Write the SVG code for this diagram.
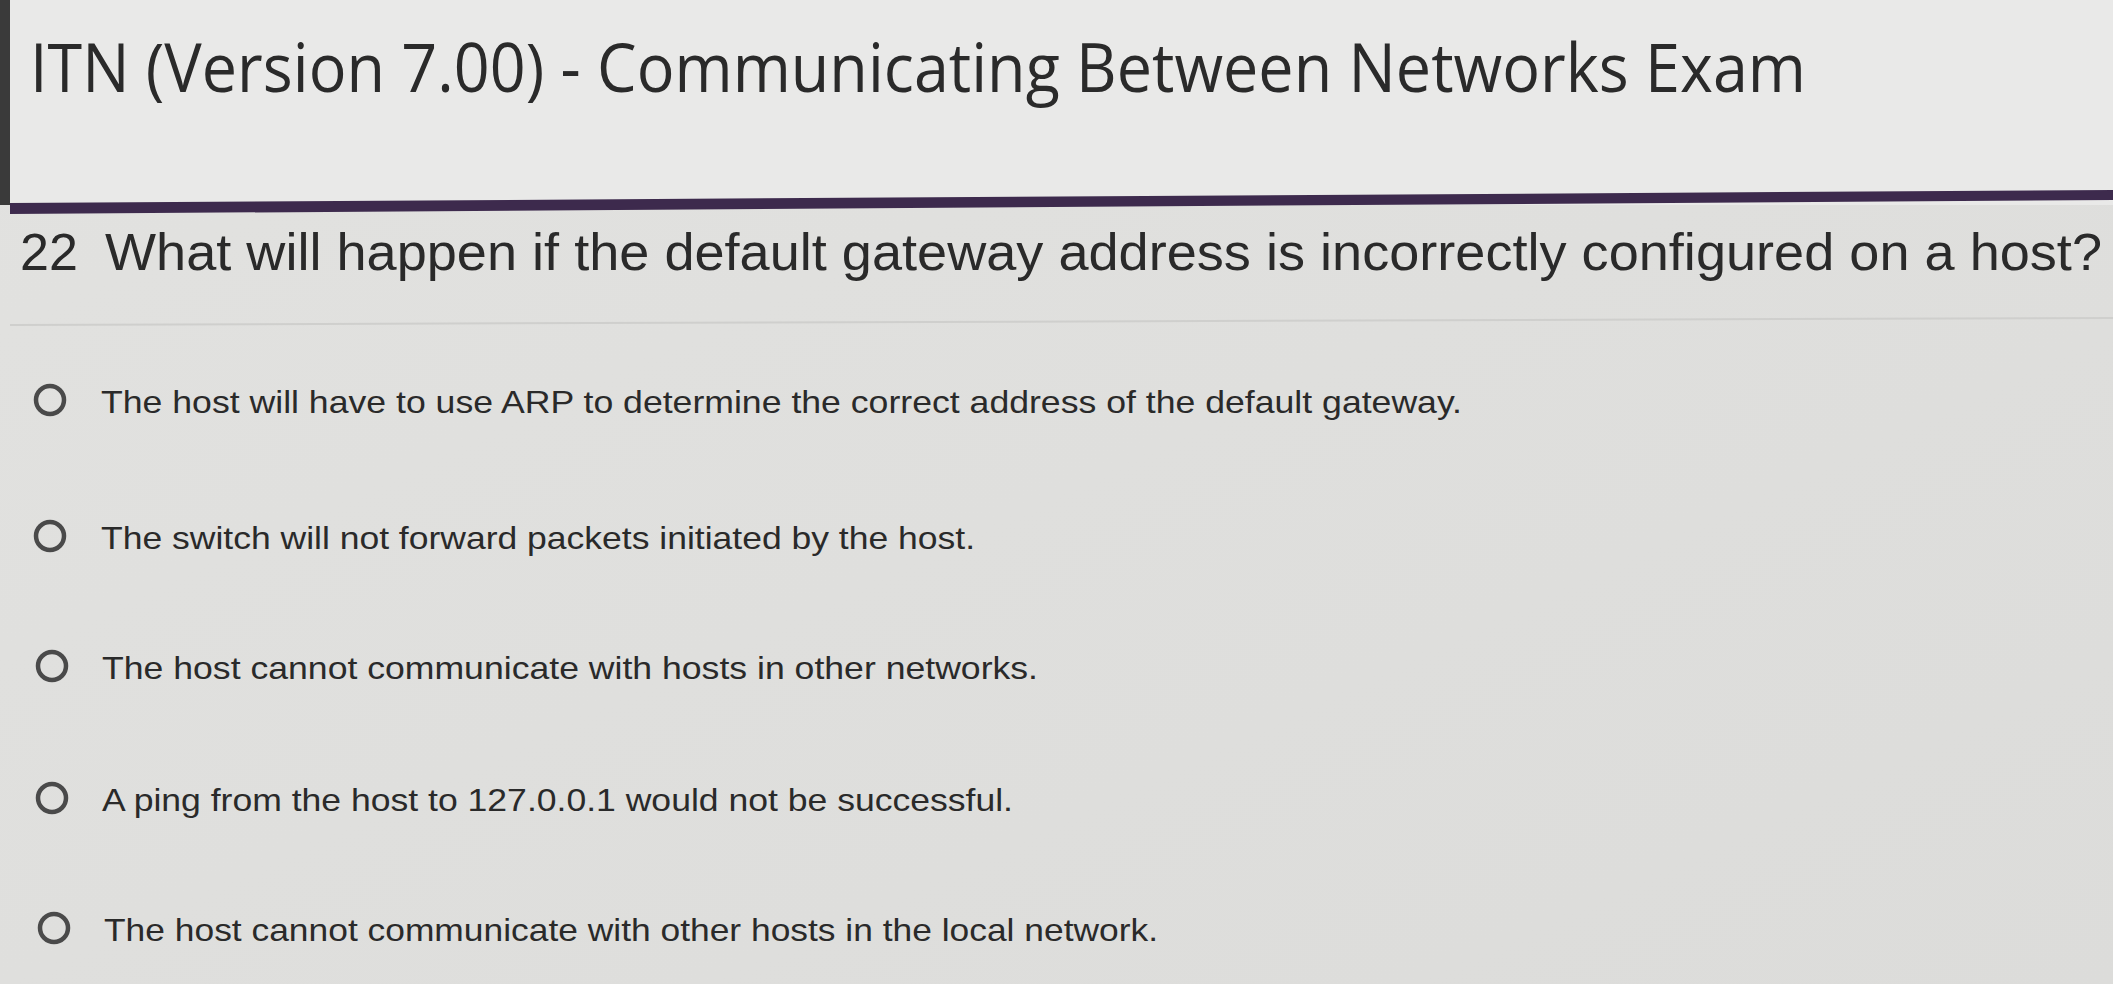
<svg xmlns="http://www.w3.org/2000/svg" width="2113" height="984" viewBox="0 0 2113 984">
<defs>
<style>
.t{font-family:"Liberation Sans",Arial,sans-serif;fill:#2a2a2a}
.opt{font-size:32px}
.rb{fill:none;stroke:#4a4a4a;stroke-width:4.5}
</style>
<linearGradient id="bg" x1="0" y1="0" x2="1" y2="1">
<stop offset="0" stop-color="#e2e2e0"/><stop offset="1" stop-color="#dcdcda"/>
</linearGradient>
</defs>
<rect width="2113" height="984" fill="url(#bg)"/>
<rect width="2113" height="205" fill="#e9e9e8"/>
<rect x="0" y="0" width="10" height="205" fill="#3a3a3a"/>
<polygon points="10,203 2113,190 2113,200 10,214" fill="#3d2a4d"/>
<line x1="10" y1="325" x2="2113" y2="318" stroke="#cfcfcd" stroke-width="2"/>
<text class="t" x="30" y="92" font-size="68" style="font-family:'Open Sans',sans-serif;font-weight:400" textLength="1776" lengthAdjust="spacingAndGlyphs">ITN (Version 7.00) - Communicating Between Networks Exam</text>
<text class="t" x="20" y="270" font-size="52"><tspan x="20">22</tspan><tspan x="105" textLength="1997" lengthAdjust="spacingAndGlyphs">What will happen if the default gateway address is incorrectly configured on a host?</tspan></text>
<g id="opt1"><circle class="rb" cx="50" cy="400" r="14"/><text class="t opt" x="101" y="413" textLength="1361" lengthAdjust="spacingAndGlyphs">The host will have to use ARP to determine the correct address of the default gateway.</text></g>
<g id="opt2"><circle class="rb" cx="50" cy="536" r="14"/><text class="t opt" x="101" y="549" textLength="874" lengthAdjust="spacingAndGlyphs">The switch will not forward packets initiated by the host.</text></g>
<g id="opt3"><circle class="rb" cx="52" cy="666" r="14"/><text class="t opt" x="102" y="679" textLength="936" lengthAdjust="spacingAndGlyphs">The host cannot communicate with hosts in other networks.</text></g>
<g id="opt4"><circle class="rb" cx="52" cy="798" r="14"/><text class="t opt" x="102" y="811" textLength="911" lengthAdjust="spacingAndGlyphs">A ping from the host to 127.0.0.1 would not be successful.</text></g>
<g id="opt5"><circle class="rb" cx="54" cy="928" r="14"/><text class="t opt" x="104" y="941" textLength="1054" lengthAdjust="spacingAndGlyphs">The host cannot communicate with other hosts in the local network.</text></g>
</svg>
